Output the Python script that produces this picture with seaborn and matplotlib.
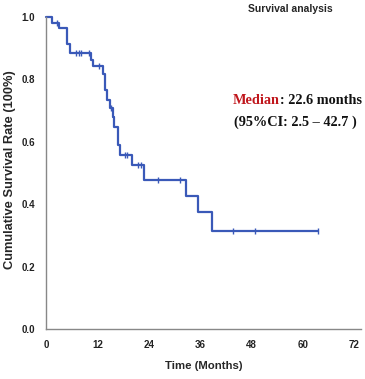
import numpy as np
import pandas as pd
import matplotlib
matplotlib.use("Agg")
import matplotlib.pyplot as plt
import seaborn as sns

# Kaplan-Meier step data
step_times = [0, 1.5, 3.0, 5.0, 5.6, 10.4, 11.0, 13.4, 13.9, 14.3, 15.0, 15.7, 16.0, 16.8, 17.4, 20.0, 22.9, 32.7, 35.6, 38.9, 63.5]
step_surv = [1.0, 0.982, 0.966, 0.912, 0.884, 0.862, 0.843, 0.816, 0.766, 0.734, 0.707, 0.680, 0.649, 0.590, 0.558, 0.526, 0.478, 0.426, 0.376, 0.314, 0.314]
censor_times = [2.6, 6.9, 7.7, 8.2, 10.0, 12.4, 15.3, 18.4, 19.0, 21.6, 22.1, 26.2, 31.3, 43.6, 48.9, 63.5]
x_ticks = [0, 12, 24, 36, 48, 60, 72]
y_ticks = [0.0, 0.2, 0.4, 0.6, 0.8, 1.0]

title = "Survival analysis"
xlabel = "Time (Months)"
ylabel = "Cumulative Survival Rate (100%)"

sns.set_style("white")
plt.rcParams['font.family'] = ['Liberation Sans', 'DejaVu Sans']

blue = "#3a59b8"
df = pd.DataFrame({"t": step_times, "s": step_surv})
idx = np.searchsorted(np.array(step_times), np.array(censor_times), side="right") - 1
cdf = pd.DataFrame({"t": censor_times, "s": np.array(step_surv)[idx]})

fig = plt.figure(figsize=(3.65, 3.79), dpi=100)
ax = fig.add_axes([46/365, 50/379, 315/365, 312/379])
sns.lineplot(data=df, x="t", y="s", drawstyle="steps-post", color=blue, lw=1.6, ax=ax, estimator=None)
sns.scatterplot(data=cdf, x="t", y="s", marker="|", s=25, color=blue, linewidth=1.0, ax=ax)
for ln in ax.lines:
    ln.set_clip_on(False)

ax.set_xlim(0, 73.6)
ax.set_ylim(0, 1.0)
ax.set_xticks(x_ticks)
ax.set_yticks(y_ticks)
ax.set_xticklabels([str(v) for v in x_ticks], fontsize=7, fontweight="bold", color="#222222")
ax.set_yticklabels([f"{v:.1f}" for v in y_ticks], fontsize=7, fontweight="bold", color="#222222")
ax.tick_params(axis="both", direction="out", length=5, width=1, color="#777777", pad=3)
for sp in ["top", "right"]:
    ax.spines[sp].set_visible(False)
for sp in ["left", "bottom"]:
    ax.spines[sp].set_color("#888888")
    ax.spines[sp].set_linewidth(1.0)
ax.set_xlabel(xlabel, fontsize=8.2, fontweight="bold", labelpad=8)
ax.set_ylabel("")
fig.text(10/365, 1 - 170/379, ylabel, fontsize=9.3, fontweight="bold", rotation=90, ha="center", va="center")

fig.text(290/365, 1 - 9/379, title, fontsize=7.5, fontweight="bold", ha="center", va="center")

serif = ['Liberation Serif', 'DejaVu Serif']
fs = 10.3
t1 = fig.text(233/365, 1 - 101/379, "Median", fontsize=fs, fontweight="bold", color="#c0161c", family=serif, va="center", ha="left")
fig.canvas.draw()
bb = t1.get_window_extent()
fig.text(bb.x1 / fig.bbox.width, 1 - 101/379, ": 22.6 months", fontsize=fs, fontweight="bold", color="#111111", family=serif, va="center", ha="left")
fig.text(295.5/365, 1 - 122/379, "(95%CI: 2.5 \u2013 42.7 )", fontsize=fs, fontweight="bold", color="#111111", family=serif, va="center", ha="center")

fig.savefig("out.png", dpi=100)
